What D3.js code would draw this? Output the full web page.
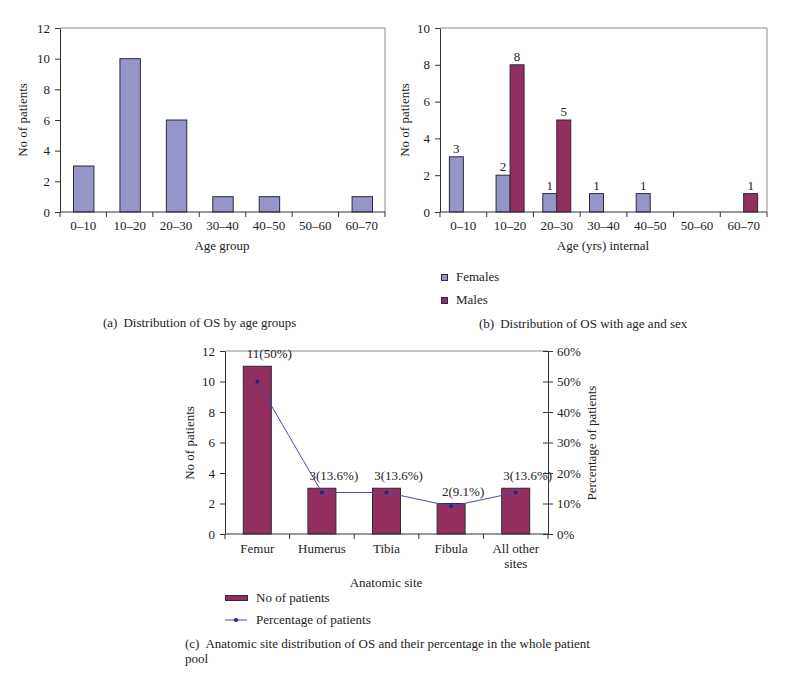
<!DOCTYPE html>
<html>
<head>
<meta charset="utf-8">
<script src="https://cdn.jsdelivr.net/npm/d3@7"></script>
<style>
  html, body { margin: 0; padding: 0; background: #fff; }
  svg text { font-family: "Liberation Serif", "DejaVu Serif", serif; fill: #222; }
</style>
</head>
<body>
<svg id="chart" width="798" height="680"></svg>
<script>
// ---------- DATA ----------
const ageGroups = ["0–10", "10–20", "20–30", "30–40", "40–50", "50–60", "60–70"];
const ageTotals = [3, 10, 6, 1, 1, 0, 1];
const yTicksA = [0, 2, 4, 6, 8, 10, 12];

const females = [3, 2, 1, 1, 1, 0, 0];
const males   = [0, 8, 5, 0, 0, 0, 1];
const yTicksB = [0, 2, 4, 6, 8, 10];
const sexSeries = ["Females", "Males"];

const sites = ["Femur", "Humerus", "Tibia", "Fibula", "All other sites"];
const siteCounts = [11, 3, 3, 2, 3];
const sitePercent = [50, 13.6, 13.6, 9.1, 13.6];
const siteLabels = ["11(50%)", "3(13.6%)", "3(13.6%)", "2(9.1%)", "3(13.6%)"];
const yTicksC = [0, 2, 4, 6, 8, 10, 12];
const pctTicksC = [0, 10, 20, 30, 40, 50, 60];

// ---------- STYLE ----------
const LAV = "#9595c9", MAR = "#922f5f", STROKE = "#2b2b3b";
const FRAME = "#8a8a8a", AXIS = "#333";
const FS = 13;

const svg = d3.select("#chart");

function styleAxis(g) {
  g.selectAll("path.domain").attr("stroke", AXIS);
  g.selectAll(".tick line").attr("stroke", AXIS);
  g.selectAll(".tick text").style("font-size", FS + "px").attr("fill", "#222")
    .style("font-family", '"Liberation Serif", serif');
}

function categoryAxis(g, cats, x0, x1, y0, opts = {}) {
  const band = d3.scaleBand().domain(cats).range([x0, x1]).padding(0);
  const edge = d3.scaleLinear().domain([0, cats.length]).range([x0, x1]);
  // baseline
  g.append("line").attr("x1", x0).attr("x2", x1).attr("y1", y0).attr("y2", y0).attr("stroke", AXIS);
  // boundary ticks
  g.selectAll(".bt").data(d3.range(cats.length + 1)).join("line")
    .attr("x1", d => edge(d)).attr("x2", d => edge(d))
    .attr("y1", y0).attr("y2", y0 + 5).attr("stroke", AXIS);
  return band;
}

// ===== Chart (a) =====
(function () {
  const L = 60, R = 385, T = 28, B = 212;
  const g = svg.append("g");
  const y = d3.scaleLinear().domain([0, 12]).range([B, T]);
  const x = d3.scaleBand().domain(ageGroups).range([L, R]).paddingInner(0.56).paddingOuter(0.28);
  const xc = d3.scaleBand().domain(ageGroups).range([L, R]);

  // frame (top/right)
  g.append("path").attr("d", `M${L},${T}H${R}V${B}`).attr("fill", "none").attr("stroke", FRAME);

  g.selectAll("rect.bar").data(ageTotals).join("rect")
    .attr("x", (d, i) => x(ageGroups[i]) + 0.5)
    .attr("width", x.bandwidth())
    .attr("y", d => y(d))
    .attr("height", d => B - y(d))
    .attr("fill", LAV).attr("stroke", STROKE).attr("stroke-width", 1)
    .attr("display", d => d > 0 ? null : "none");

  const ay = g.append("g").attr("transform", `translate(${L},0)`)
    .call(d3.axisLeft(y).tickValues(yTicksA).tickSize(5).tickPadding(5).tickSizeOuter(0));
  styleAxis(ay);

  categoryAxis(g, ageGroups, L, R, B);
  g.selectAll("text.xl").data(ageGroups).join("text")
    .attr("x", d => xc(d) + xc.bandwidth() / 2).attr("y", B + 18)
    .attr("text-anchor", "middle").style("font-size", FS + "px").text(d => d);

  g.append("text").attr("transform", `translate(27,120) rotate(-90)`)
    .attr("text-anchor", "middle").style("font-size", FS + "px").text("No of patients");
  g.append("text").attr("x", 222).attr("y", 250).attr("text-anchor", "middle")
    .style("font-size", FS + "px").text("Age group");

  const cap = g.append("text").attr("x", 103).attr("y", 327).style("font-size", FS + "px");
  cap.append("tspan").text("(a)");
  cap.append("tspan").attr("dx", 6).text("Distribution of OS by age groups");
})();

// ===== Chart (b) =====
(function () {
  const L = 440, R = 767, T = 28, B = 212;
  const g = svg.append("g");
  const y = d3.scaleLinear().domain([0, 10]).range([B, T]);
  const xc = d3.scaleBand().domain(ageGroups).range([L, R]);
  const xs = d3.scaleBand().domain(sexSeries).range([-14, 14]);

  g.append("path").attr("d", `M${L},${T}H${R}V${B}`).attr("fill", "none").attr("stroke", FRAME);

  const data = [];
  ageGroups.forEach((a, i) => {
    data.push({ a, s: "Females", v: females[i] });
    data.push({ a, s: "Males", v: males[i] });
  });
  const nz = data.filter(d => d.v > 0);
  const cx = d => xc(d.a) + xc.bandwidth() / 2 + xs(d.s);

  g.selectAll("rect.bar").data(nz).join("rect")
    .attr("x", d => cx(d)).attr("width", xs.bandwidth())
    .attr("y", d => y(d.v)).attr("height", d => B - y(d.v))
    .attr("fill", d => d.s === "Females" ? LAV : MAR)
    .attr("stroke", STROKE).attr("stroke-width", 1);

  g.selectAll("text.vl").data(nz).join("text")
    .attr("x", d => cx(d) + xs.bandwidth() / 2).attr("y", d => y(d.v) - 4)
    .attr("text-anchor", "middle").style("font-size", FS + "px").text(d => d.v);

  const ay = g.append("g").attr("transform", `translate(${L},0)`)
    .call(d3.axisLeft(y).tickValues(yTicksB).tickSize(5).tickPadding(5).tickSizeOuter(0));
  styleAxis(ay);

  categoryAxis(g, ageGroups, L, R, B);
  g.selectAll("text.xl").data(ageGroups).join("text")
    .attr("x", d => xc(d) + xc.bandwidth() / 2).attr("y", B + 18)
    .attr("text-anchor", "middle").style("font-size", FS + "px").text(d => d);

  g.append("text").attr("transform", `translate(409,120) rotate(-90)`)
    .attr("text-anchor", "middle").style("font-size", FS + "px").text("No of patients");
  g.append("text").attr("x", 603).attr("y", 250).attr("text-anchor", "middle")
    .style("font-size", FS + "px").text("Age (yrs) internal");

  // legend
  const lg = g.append("g");
  sexSeries.forEach((s, i) => {
    lg.append("rect").attr("x", 441.5).attr("y", 274.5 + i * 23).attr("width", 6).attr("height", 6)
      .attr("fill", s === "Females" ? LAV : MAR).attr("stroke", STROKE);
    lg.append("text").attr("x", 456).attr("y", 281 + i * 23).style("font-size", FS + "px").text(s);
  });

  const cap = g.append("text").attr("x", 479).attr("y", 328).style("font-size", FS + "px");
  cap.append("tspan").text("(b)");
  cap.append("tspan").attr("dx", 6).text("Distribution of OS with age and sex");
})();

// ===== Chart (c) =====
(function () {
  const L = 225, R = 548, T = 351, B = 534;
  const g = svg.append("g");
  const y = d3.scaleLinear().domain([0, 12]).range([B, T]);
  const yp = d3.scaleLinear().domain([0, 60]).range([B, T]);
  const xc = d3.scaleBand().domain(sites).range([L, R]);
  const bw = 28;
  const mid = d => xc(d) + xc.bandwidth() / 2;

  g.append("line").attr("x1", L).attr("x2", R).attr("y1", T).attr("y2", T).attr("stroke", FRAME);

  g.selectAll("rect.bar").data(siteCounts).join("rect")
    .attr("x", (d, i) => mid(sites[i]) - bw / 2).attr("width", bw)
    .attr("y", d => y(d)).attr("height", d => B - y(d))
    .attr("fill", MAR).attr("stroke", STROKE).attr("stroke-width", 1);

  const line = d3.line().x((d, i) => mid(sites[i])).y(d => yp(d));
  g.append("path").datum(sitePercent).attr("d", line)
    .attr("fill", "none").attr("stroke", "#4a4aa8").attr("stroke-width", 1);
  g.selectAll("circle.pt").data(sitePercent).join("circle")
    .attr("cx", (d, i) => mid(sites[i])).attr("cy", d => yp(d)).attr("r", 2)
    .attr("fill", "#26267a");

  g.selectAll("text.vl").data(siteLabels).join("text")
    .attr("x", (d, i) => mid(sites[i]) + 12).attr("y", (d, i) => y(siteCounts[i]) - 8)
    .attr("text-anchor", "middle").style("font-size", FS + "px").text(d => d);

  const ay = g.append("g").attr("transform", `translate(${L},0)`)
    .call(d3.axisLeft(y).tickValues(yTicksC).tickSize(5).tickPadding(5).tickSizeOuter(0));
  styleAxis(ay);
  const ar = g.append("g").attr("transform", `translate(${R},0)`)
    .call(d3.axisRight(yp).tickValues(pctTicksC).tickSize(5).tickPadding(4).tickSizeOuter(0)
      .tickFormat(d => d + "%"));
  styleAxis(ar);
  ar.selectAll(".tick line").attr("x1", -5);

  categoryAxis(g, sites, L, R, B);
  g.selectAll("text.xl").data(sites).join("text")
    .attr("x", d => mid(d)).attr("y", B + 19)
    .attr("text-anchor", "middle").style("font-size", FS + "px")
    .each(function (d) {
      const parts = d === "All other sites" ? ["All other", "sites"] : [d];
      parts.forEach((p, k) => d3.select(this).append("tspan")
        .attr("x", mid(d)).attr("dy", k ? 14.5 : 0).text(p));
    });

  g.append("text").attr("transform", `translate(194,443) rotate(-90)`)
    .attr("text-anchor", "middle").style("font-size", FS + "px").text("No of patients");
  g.append("text").attr("transform", `translate(596,443) rotate(-90)`)
    .attr("text-anchor", "middle").style("font-size", FS + "px").text("Percentage of patients");
  g.append("text").attr("x", 386).attr("y", 587).attr("text-anchor", "middle")
    .style("font-size", FS + "px").text("Anatomic site");

  // legend
  g.append("rect").attr("x", 225.5).attr("y", 595.5).attr("width", 22).attr("height", 5)
    .attr("fill", MAR).attr("stroke", STROKE);
  g.append("text").attr("x", 256).attr("y", 602).style("font-size", FS + "px").text("No of patients");
  g.append("line").attr("x1", 225).attr("x2", 247).attr("y1", 620).attr("y2", 620)
    .attr("stroke", "#4a4aa8");
  g.append("circle").attr("cx", 236).attr("cy", 620).attr("r", 2).attr("fill", "#26267a");
  g.append("text").attr("x", 256).attr("y", 624).style("font-size", FS + "px").text("Percentage of patients");

  const cap = g.append("text").attr("x", 185).attr("y", 648).style("font-size", FS + "px");
  cap.append("tspan").text("(c)");
  cap.append("tspan").attr("dx", 6).text("Anatomic site distribution of OS and their percentage in the whole patient");
  g.append("text").attr("x", 185).attr("y", 663).style("font-size", FS + "px").text("pool");
})();
</script>
</body>
</html>
